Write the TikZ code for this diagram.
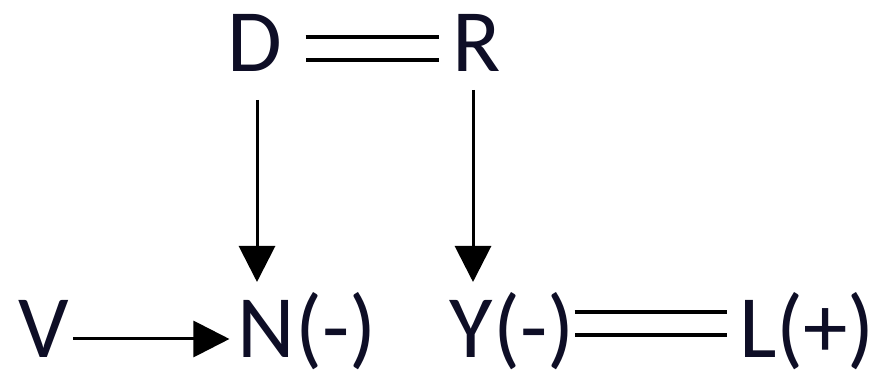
\documentclass[tikz,border=0pt]{standalone}
\usepackage{fontspec}
\setmainfont{Carlito}
\usetikzlibrary{arrows.meta}
\definecolor{txt}{RGB}{14,14,38}
\begin{document}
\begin{tikzpicture}[x=1pt,y=1pt,
  lbl/.style={font=\fontsize{89}{89}\selectfont, text=txt, inner sep=0pt, anchor=base},
  arr/.style={line width=3pt, draw=black, -{Triangle[length=36pt,width=36pt]}},
  dbl/.style={draw=black, line width=4pt, double=white, double distance=19pt}]
\useasboundingbox (0,0) rectangle (894,379);
\node[lbl] (D) at (255,307) {D};
\node[lbl] (R) at (477,307) {R};
\node[lbl] (V) at (44,21) {V};
\node[lbl] (N) at (307,21) {N(-)};
\node[lbl] (Y) at (512,21) {Y(-)};
\node[lbl] (L) at (807,21) {L(+)};
\draw[dbl] ([xshift=23pt,yshift=23.5pt]D.base east) -- ([xshift=-14pt,yshift=23.5pt]R.base west);
\draw[dbl] ([xshift=0pt,yshift=34.5pt]Y.base east) -- ([xshift=-12pt,yshift=34.5pt]L.base west);
\draw[arr] ([xshift=4pt,yshift=19pt]V.base east) -- ([xshift=-8pt,yshift=19pt]N.base west);
\draw[arr] ([xshift=2pt,yshift=-28pt]D.base) -- ([xshift=2pt,yshift=76pt]D.base |- N.base);
\draw[arr] ([xshift=-4pt,yshift=-18pt]R.base) -- ([xshift=-4pt,yshift=76pt]R.base |- Y.base);
\end{tikzpicture}
\end{document}
